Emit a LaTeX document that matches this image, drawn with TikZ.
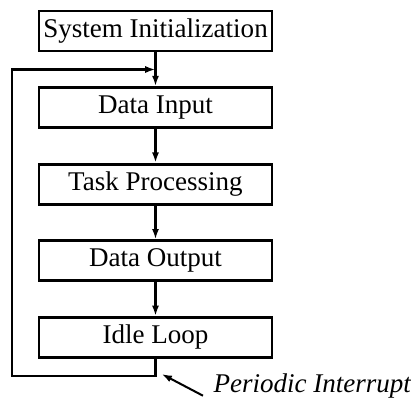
\documentclass[tikz,border=0pt]{standalone}
\usepackage{fontspec}
\setmainfont{Liberation Serif}
\usetikzlibrary{arrows.meta}
\begin{document}
\begin{tikzpicture}[x=0.37pt,y=-0.37pt,
  stagebox/.style={draw, line width=1.1pt, minimum width=86.2pt,
    minimum height=14.8pt, inner sep=1pt, font=\fontsize{10}{12}\selectfont},
  flow/.style={line width=0.75pt, -{Latex[length=3.8pt,width=2.6pt]}},
  note/.style={inner sep=0pt, font=\fontsize{10}{12}\selectfont\itshape}]
\useasboundingbox (0,0) rectangle (411,398);

% program stages
\node[stagebox] (init)  at (155.5,31)    {System Initialization};
\node[stagebox] (input) at (155.5,107.6) {Data Input};
\node[stagebox] (proc)  at (155.5,184.2) {Task Processing};
\node[stagebox] (out)   at (155.5,260.8) {Data Output};
\node[stagebox] (idle)  at (155.5,337.4) {Idle Loop};

% main flow
\draw[flow] (init) -- (input);
\draw[flow] (input) -- (proc);
\draw[flow] (proc) -- (out);
\draw[flow] (out) -- (idle);

% return path of the main loop
\coordinate (join)   at (155.5,69.5);
\coordinate (loopbr) at (155.5,376);
\coordinate (loopbl) at (12,376);
\coordinate (looptl) at (12,69.5);
\draw[flow] (idle.south) -- (loopbr) -- (loopbl) -- (looptl) -- (join);

% interrupt annotation
\node[note, anchor=base west] (irq) at (213,392) {Periodic Interrupt};
\coordinate (irqtail) at (203,395.7);
\coordinate (irqtip)  at (161.7,374);
\draw[flow] (irqtail) -- (irqtip);
\end{tikzpicture}
\end{document}
